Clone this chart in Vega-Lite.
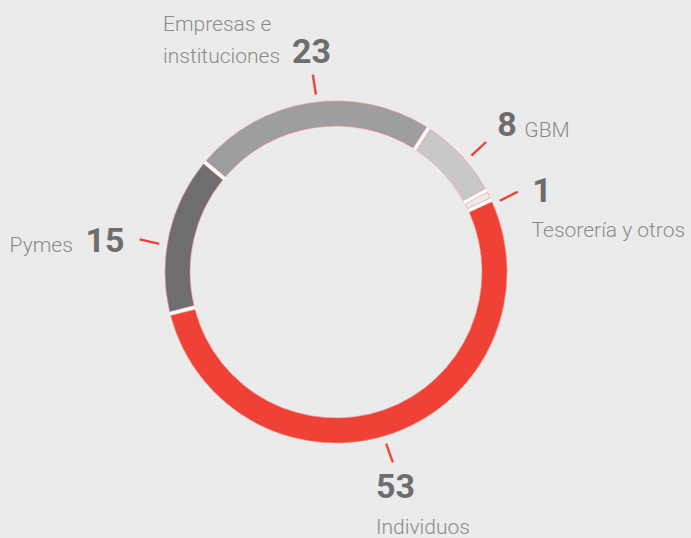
{
  "$schema": "https://vega.github.io/schema/vega-lite/v6.json",
  "width": 672,
  "height": 532,
  "autosize": {"type": "none"},
  "padding": {"left": 0, "top": 6, "right": 19, "bottom": 0},
  "background": "#ebebeb",
  "config": {"view": {"stroke": null}},
  "data": {
    "values": [
      {"segmento": "Individuos", "etiqueta": "Individuos", "valor": 53, "orden": 1},
      {"segmento": "Pymes", "etiqueta": "Pymes", "valor": 15, "orden": 2},
      {"segmento": "Empresas e instituciones", "etiqueta": "Empresas e\ninstituciones", "valor": 23, "orden": 3},
      {"segmento": "GBM", "etiqueta": "GBM", "valor": 8, "orden": 4},
      {"segmento": "Tesorería y otros", "etiqueta": "Tesorería y otros", "valor": 1, "orden": 5}
    ]
  },
  "encoding": {
    "theta": {"field": "valor", "type": "quantitative", "stack": true, "scale": {"domain": [0, 100], "range": [1.1362, 7.4194]}},
    "order": {"field": "orden", "type": "quantitative"},
    "detail": {"field": "segmento", "type": "nominal"}
  },
  "layer": [
    {
      "mark": {"type": "arc", "radius": 171, "radius2": 146, "fill": "#ffffff"}
    },
    {
      "mark": {"type": "arc", "radius": 171, "radius2": 146, "padAngle": 0.018, "stroke": "#ec8f88", "strokeWidth": 0.6},
      "encoding": {
        "color": {
          "field": "segmento",
          "type": "nominal",
          "scale": {
            "domain": ["Individuos", "Pymes", "Empresas e instituciones", "GBM", "Tesorería y otros"],
            "range": ["#ef4136", "#6e6e70", "#9e9d9f", "#c9c8c9", "#ebebeb"]
          },
          "legend": null
        }
      }
    },
    {
      "mark": {
        "type": "text",
        "radius": 188,
        "align": "center",
        "baseline": "middle",
        "font": "DejaVu Sans Mono",
        "fontSize": 16,
        "fill": "#ef4136",
        "stroke": "#ef4136",
        "strokeWidth": 1,
        "angle": {"expr": "scale('theta', 0.5 * datum.valor_start + 0.5 * datum.valor_end) * 180 / PI"},
        "dx": {"expr": "datum.orden == 1 ? 10 : datum.orden == 2 ? -12 : datum.orden == 3 ? 7 : datum.orden == 4 ? 7 : 10"}
      },
      "encoding": {"text": {"value": "│"}}
    },
    {
      "mark": {
        "type": "text",
        "radius": 205,
        "align": "left",
        "baseline": "alphabetic",
        "font": "Roboto",
        "fontWeight": "bold",
        "fontSize": 34,
        "fill": "#6e6e6e",
        "dx": {"expr": "datum.orden == 1 ? -28.5 : datum.orden == 2 ? -50.6 : datum.orden == 3 ? -13 : datum.orden == 4 ? 11.2 : 13"},
        "dy": {"expr": "datum.orden == 1 ? 32.7 : datum.orden == 2 ? 25.7 : datum.orden == 3 ? -6.5 : datum.orden == 4 ? 3.6 : 22"}
      },
      "encoding": {"text": {"field": "valor", "type": "quantitative"}}
    },
    {
      "mark": {
        "type": "text",
        "radius": 205,
        "align": "left",
        "baseline": "alphabetic",
        "lineBreak": "\n",
        "lineHeight": 32,
        "font": "Roboto",
        "fontWeight": 300,
        "fontSize": 21,
        "fill": "#8b8b8b",
        "dx": {"expr": "datum.orden == 1 ? -28.5 : datum.orden == 2 ? -126.6 : datum.orden == 3 ? -142 : datum.orden == 4 ? 38.2 : 12.4"},
        "dy": {"expr": "datum.orden == 1 ? 69 : datum.orden == 2 ? 25.7 : datum.orden == 3 ? -38.5 : datum.orden == 4 ? 4.6 : 57"}
      },
      "encoding": {"text": {"field": "etiqueta", "type": "nominal"}}
    }
  ]
}
